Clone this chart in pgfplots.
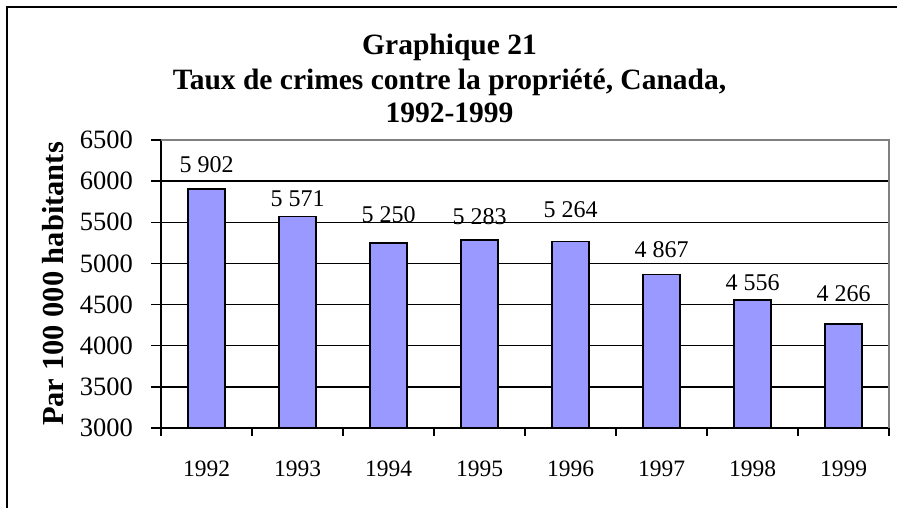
\documentclass[border=0pt]{standalone}
\usepackage{fontspec}
\setmainfont{Liberation Serif}
\usepackage{pgfplots}
\pgfplotsset{compat=1.18}
\definecolor{barblue}{HTML}{9999FF}
\definecolor{framegray}{HTML}{808080}
\begin{document}
\begin{tikzpicture}[x=1bp,y=1bp]
\clip (0,0) rectangle (897,508);
\useasboundingbox (0,0) rectangle (897,508);
\draw[line width=2bp] (7,-20) -- (7,501) -- (920,501);
\node[anchor=base, inner sep=0, font=\fontsize{29.5bp}{34bp}\selectfont\bfseries] at (449.5,453) {Graphique 21};
\node[anchor=base, inner sep=0, font=\fontsize{29.5bp}{34bp}\selectfont\bfseries] at (449.5,418) {Taux de crimes contre la propriété, Canada,};
\node[anchor=base, inner sep=0, font=\fontsize{29.5bp}{34bp}\selectfont\bfseries] at (449.5,385) {1992-1999};
\begin{axis}[
  at={(161bp,80bp)}, anchor=south west,
  scale only axis, width=728bp, height=288bp,
  xmin=-0.5, xmax=7.5, ymin=3000, ymax=6500,
  axis x line*=bottom, axis y line*=left,
  axis line style={line width=1.4bp, black},
  xtick={0,...,7},
  xticklabels={1992,1993,1994,1995,1996,1997,1998,1999},
  major x tick style={draw=none},
  minor xtick={-0.5,0.5,...,7.5},
  minor tick length=8bp,
  major tick length=10bp,
  tick align=outside,
  every tick/.style={black, line width=1.3bp},
  minor x tick style={black, line width=1.3bp},
  ytick={3000,3500,...,6500},
  ymajorgrids,
  major grid style={black, line width=1.3bp},
  /pgf/number format/assume math mode=true,
  /pgf/number format/1000 sep={},
  yticklabel style={font=\fontsize{26.5bp}{30bp}\selectfont, anchor=east, inner sep=0pt, xshift=-18bp},
  xticklabel style={font=\fontsize{23.5bp}{28bp}\selectfont, anchor=base, inner sep=0pt, yshift=-39bp},
  ylabel={\textbf{Par 100 000 habitants}},
  every axis y label/.style={at={(axis description cs:-0.1484,0.5)}, rotate=90, anchor=center, font=\fontsize{30.5bp}{34bp}\selectfont},
  clip=false,
]
\addplot[ybar, bar width=37bp, fill=barblue, draw=black, line width=1.5bp] coordinates {
  (0,5902) (1,5571) (2,5250) (3,5283) (4,5264) (5,4867) (6,4556) (7,4266)
};
\addplot[draw=none, mark=none, point meta=explicit symbolic,
  nodes near coords,
  every node near coord/.append style={font=\fontsize{24bp}{28bp}\selectfont, anchor=base, inner sep=0pt, black}]
  table[meta=lab] {
x y lab
0 6099 5~902
1 5686 5~571
2 5503 5~250
3 5479 5~283
4 5556 5~264
5 5075 4~867
6 4665 4~556
7 4535 4~266
};
\draw[framegray, line width=2.2bp] (rel axis cs:0,1) -- (rel axis cs:1,1) -- (rel axis cs:1,0);
\end{axis}
\end{tikzpicture}
\end{document}
